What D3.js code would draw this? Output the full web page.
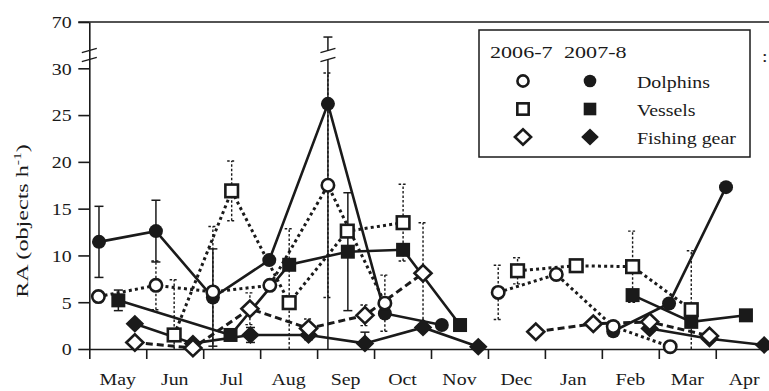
<!DOCTYPE html>
<html>
<head>
<meta charset="utf-8">
<script src="https://cdn.jsdelivr.net/npm/d3@7"></script>
<style>
  html, body { margin: 0; padding: 0; background: #fff; }
  svg { display: block; }
  text { font-family: "Liberation Serif", "Times New Roman", serif; fill: #1a1a1a; }
</style>
</head>
<body>
<svg id="chart" width="769" height="391"></svg>
<script>
// Month labels along the x axis (survey year runs May to April)
const months = ["May", "Jun", "Jul", "Aug", "Sep", "Oct", "Nov", "Dec", "Jan", "Feb", "Mar", "Apr"];
const yTicks = [0, 5, 10, 15, 20, 25, 30, 70];
const seasons = ["2006-7", "2007-8"];
const groups = ["Dolphins", "Vessels", "Fishing gear"];

// Each entry: [months since 1 May, mean RA, error]; null separates survey blocks
const dolphins0607 = [[0.16, 5.6, 0], [1.17, 6.8, 2.6], [2.17, 6.1, 7], [3.17, 6.8, 0], [4.19, 17.5, 12], [5.19, 4.9, 3],
  null, [7.18, 6.05, 2.9], [8.2, 7.97, 0], [9.2, 2.4, 0], [10.2, 0.25, 0]];
const dolphins0708 = [[0.17, 11.45, 3.8], [1.17, 12.6, 3.3], [2.17, 5.5, 5.2], [3.16, 9.5, 0], [4.19, 26.2, 30.8], [5.19, 3.8, 0], [6.19, 2.56, 0],
  null, [9.2, 1.9, 0], [10.18, 4.87, 0], [11.18, 17.3, 0]];
const vessels0607 = [[1.49, 1.5, 5.9], [2.5, 16.9, 3.2], [3.51, 4.95, 7.9], [4.53, 12.6, 0], [5.51, 13.5, 4.1],
  null, [7.52, 8.36, 1.4], [8.55, 8.9, 0], [9.54, 8.8, 3.8], [10.57, 4.2, 6.3]];
const vessels0708 = [[0.51, 5.2, 1.1], [2.48, 1.5, 0], [3.51, 9.0, 0], [4.54, 10.4, 6.3], [5.51, 10.6, 0], [6.51, 2.56, 0],
  null, [9.54, 5.76, 0], [10.57, 2.9, 0], [11.53, 3.6, 0]];
const gear0607 = [[0.8, 0.7, 0], [1.82, 0.1, 0], [2.82, 4.3, 1.7], [3.85, 2.2, 1], [4.84, 3.6, 1.1], [5.86, 8.1, 5.4],
  null, [7.84, 1.85, 0], [8.85, 2.7, 0], [9.84, 2.9, 0], [10.89, 1.4, 0]];
const gear0708 = [[0.8, 2.7, 0], [1.82, 0.6, 0], [2.83, 1.5, 0.8], [3.85, 1.5, 0.5], [4.84, 0.6, 1.2], [5.86, 2.3, 0], [6.83, 0.25, 0],
  null, [9.84, 2.2, 0], [10.89, 1.1, 0], [11.85, 0.43, 0]];

const W = 769, H = 391;
const SX = 1.17;             // horizontal stretch of the serif lettering
const FONT = 17;
const svg = d3.select("#chart");

const x = d3.scaleLinear().domain([0, 12]).range([89.3, 89.3 + 12 * 56.95]);
// broken y axis: 0-30 linear, 30-70 compressed above the break
const y = d3.scaleLinear().domain([0, 30, 70]).range([349, 68.3, 22]);
const BREAK_Y = 55;

function txt(g, px, py, str, anchor, sx) {
  return g.append("text")
    .attr("transform", `translate(${px},${py}) scale(${sx || SX},1)`)
    .attr("text-anchor", anchor || "start")
    .attr("font-size", FONT)
    .text(str);
}

const series = [
  { data: dolphins0607, shape: "circle", open: true, dash: "3,3.2" },
  { data: vessels0607, shape: "square", open: true, dash: "3,3.2" },
  { data: gear0607, shape: "diamond", open: true, dash: "7,4" },
  { data: dolphins0708, shape: "circle", open: false, dash: null },
  { data: vessels0708, shape: "square", open: false, dash: null },
  { data: gear0708, shape: "diamond", open: false, dash: null }
];

// ---- axes ----
const yAxis = d3.axisLeft(y).tickValues(yTicks).tickSize(11).tickSizeOuter(0).tickPadding(4);
const gy = svg.append("g").attr("transform", `translate(${x(0)},0)`).call(yAxis);
gy.select(".domain").attr("stroke", "#1a1a1a").attr("stroke-width", 1.6);
gy.selectAll(".tick line").attr("stroke", "#1a1a1a").attr("stroke-width", 1.6);
gy.selectAll(".tick text")
  .attr("font-size", FONT).attr("font-family", "Liberation Serif, serif").attr("fill", "#1a1a1a")
  .attr("x", -15).attr("dy", "0.34em")
  .attr("transform", `scale(${SX},1)`);

// top frame line at the 70 level
svg.append("line")
  .attr("x1", x(0) - 11).attr("x2", W).attr("y1", y(70)).attr("y2", y(70))
  .attr("stroke", "#1a1a1a").attr("stroke-width", 1.6);

// break marks on the y axis
function breakMarks(cx) {
  [-4.5, 4.5].forEach(off => {
    svg.append("line")
      .attr("x1", cx - 7.5).attr("y1", BREAK_Y + off + 2.2)
      .attr("x2", cx + 7.5).attr("y2", BREAK_Y + off - 2.2)
      .attr("stroke", "#1a1a1a").attr("stroke-width", 1.4);
  });
}
breakMarks(x(0));

const xAxis = d3.axisBottom(x).tickValues(d3.range(0, 12)).tickSize(10).tickSizeOuter(0).tickFormat("");
const gx = svg.append("g").attr("transform", `translate(0,${y(0)})`).call(xAxis);
gx.select(".domain").attr("stroke", "#1a1a1a").attr("stroke-width", 1.6);
gx.selectAll(".tick line").attr("stroke", "#1a1a1a").attr("stroke-width", 1.6);

months.forEach((m, i) => txt(svg, x(i + 0.5), 385, m, "middle"));

// y axis title
const yt = svg.append("text")
  .attr("transform", `translate(28,221) rotate(-90) scale(1.42,1)`)
  .attr("text-anchor", "middle").attr("font-size", FONT);
yt.append("tspan").text("RA (objects h");
yt.append("tspan").attr("font-size", 11).attr("dy", -7).text("-1");
yt.append("tspan").attr("dy", 7).text(")");

// ---- error bars ----
const pts = s => s.data.filter(d => d && d[2] > 0);
series.forEach(s => {
  const g = svg.append("g")
    .attr("stroke", "#1a1a1a")
    .attr("stroke-width", s.open ? 1.4 : 1.5)
    .attr("stroke-dasharray", s.open ? "2.5,2" : null);
  pts(s).forEach(d => {
    const cx = x(d[0]);
    const lo = Math.max(0, d[1] - d[2]), hi = d[1] + d[2];
    g.append("line").attr("x1", cx).attr("x2", cx).attr("y1", y(lo)).attr("y2", y(hi));
    g.append("line").attr("x1", cx - 4.5).attr("x2", cx + 4.5).attr("y1", y(hi)).attr("y2", y(hi));
    if (d[1] - d[2] > 0)
      g.append("line").attr("x1", cx - 4.5).attr("x2", cx + 4.5).attr("y1", y(lo)).attr("y2", y(lo));
    if (hi > 30) {
      svg.append("rect").attr("x", cx - 3).attr("y", BREAK_Y - 4.5).attr("width", 6).attr("height", 9).attr("fill", "#fff");
      breakMarks(cx);
    }
  });
});

// ---- lines ----
const line = d3.line().defined(d => d != null).x(d => x(d[0])).y(d => y(d[1]));
series.forEach(s => {
  svg.append("path")
    .attr("d", line(s.data))
    .attr("fill", "none")
    .attr("stroke", "#1a1a1a")
    .attr("stroke-width", s.open ? 3 : 2.6)
    .attr("stroke-dasharray", s.dash);
});

// ---- markers ----
function marker(g, shape, open, cx, cy, scale) {
  const k = scale || 1;
  let el;
  if (shape === "circle") {
    el = g.append("circle").attr("cx", cx).attr("cy", cy).attr("r", (open ? 6.2 : 7) * k);
  } else if (shape === "square") {
    const h = (open ? 6.3 : 7) * k;
    el = g.append("rect").attr("x", cx - h).attr("y", cy - h).attr("width", 2 * h).attr("height", 2 * h);
  } else {
    const a = (open ? 8.5 : 9.3) * k, b = (open ? 8.2 : 9) * k;
    el = g.append("path").attr("d", `M${cx - a},${cy}L${cx},${cy - b}L${cx + a},${cy}L${cx},${cy + b}Z`);
  }
  el.attr("fill", open ? "#fff" : "#1a1a1a")
    .attr("stroke", "#1a1a1a")
    .attr("stroke-width", open ? 2.6 : 0);
  return el;
}
const order = series.filter(s => !s.open).concat(series.filter(s => s.open));
order.forEach(s => {
  const g = svg.append("g");
  s.data.filter(d => d).forEach(d => marker(g, s.shape, s.open, x(d[0]), y(d[1])));
});

// ---- legend ----
const lg = svg.append("g");
lg.append("rect").attr("x", 479).attr("y", 30).attr("width", 271).attr("height", 127)
  .attr("fill", "#fff").attr("stroke", "#1a1a1a").attr("stroke-width", 1.5);
txt(lg, 490, 58, seasons[0], "start", 1.3);
txt(lg, 564, 58, seasons[1], "start", 1.3);
const shapes = ["circle", "square", "diamond"];
const rowY = [81, 109, 137];
groups.forEach((name, i) => {
  marker(lg, shapes[i], true, 523, rowY[i], shapes[i] === "diamond" ? 0.95 : 0.9);
  marker(lg, shapes[i], false, 590, rowY[i], shapes[i] === "diamond" ? 0.95 : 0.9);
  txt(lg, 637, rowY[i] + 7, name, "start");
});

txt(svg, 762, 62, ":", "start");
</script>
</body>
</html>
